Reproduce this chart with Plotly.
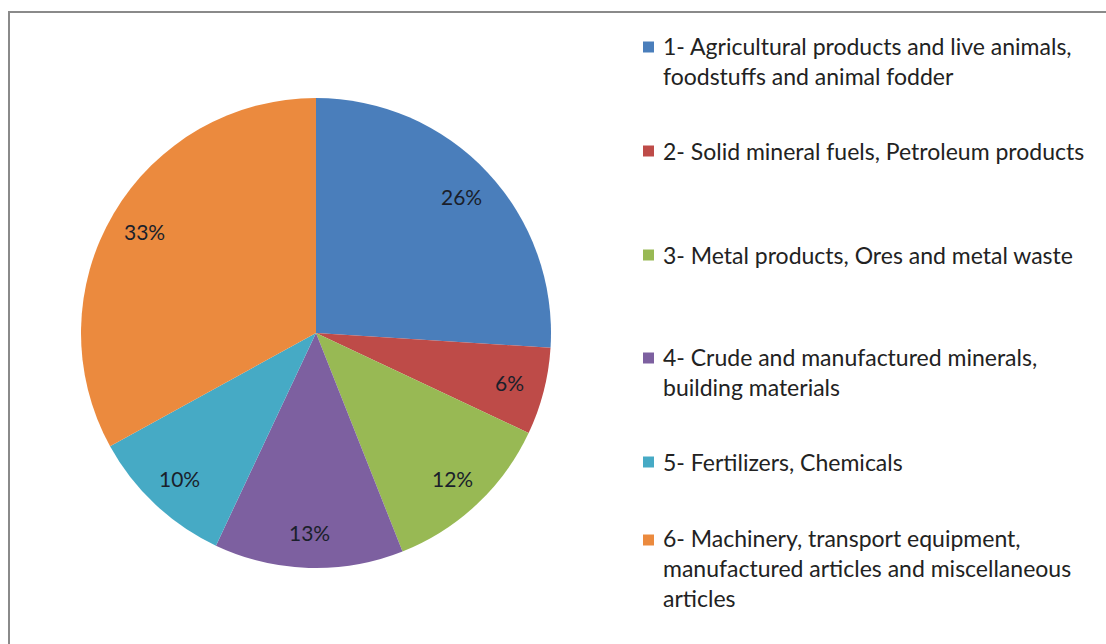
import math
import plotly.graph_objects as go

categories = [
    "1- Agricultural products and live animals,<br>foodstuffs and animal fodder",
    "2- Solid mineral fuels, Petroleum products",
    "3- Metal products, Ores and metal waste",
    "4- Crude and manufactured minerals,<br>building materials",
    "5- Fertilizers, Chemicals",
    "6- Machinery, transport equipment,<br>manufactured articles and miscellaneous<br>articles",
]
values = [26, 6, 12, 13, 10, 33]
colors = ["#4A7EBB", "#BE4B48", "#98B954", "#7D60A0", "#46AAC5", "#EB8A3E"]

W, H = 1106, 644
FONT = "Lato"
CX, CY, R = 316, 333, 235  # pie placement in pixels (layout)
LABEL_R = 0.85

fig = go.Figure()
fig.add_trace(go.Pie(
    labels=categories,
    values=values,
    sort=False,
    direction="clockwise",
    rotation=0,
    marker=dict(colors=colors, line=dict(width=0)),
    textinfo="none",
    showlegend=False,
    hoverinfo="label+percent",
    domain=dict(x=[(CX - R) / W, (CX + R) / W], y=[1 - (CY + R) / H, 1 - (CY - R) / H]),
))

annotations = []
shapes = []

# percentage labels placed at the slice mid-angles (derived from the values)
total = sum(values)
cum = 0
for v in values:
    mid = (cum + v / 2) / total * 2 * math.pi
    cum += v
    px = CX + LABEL_R * R * math.sin(mid)
    py = CY - LABEL_R * R * math.cos(mid)
    annotations.append(dict(
        x=px / W, y=1 - py / H, xref="paper", yref="paper",
        xanchor="center", yanchor="middle", showarrow=False,
        text=f"{round(v / total * 100)}%",
        font=dict(family=FONT, size=21, color="#1a1f2b"),
    ))

# legend drawn as annotations + squares
legend_first_line_y = [47, 151, 255, 358, 462, 540]
line_h = 28
for lab, col, y0 in zip(categories, colors, legend_first_line_y):
    nlines = lab.count("<br>") + 1
    cy = y0 + (nlines - 1) * line_h / 2
    annotations.append(dict(
        x=661 / W, y=1 - cy / H, xref="paper", yref="paper",
        xanchor="left", yanchor="middle", align="left", showarrow=False,
        text=lab, font=dict(family=FONT, size=23, color="#222222"),
    ))
    shapes.append(dict(
        type="rect", xref="paper", yref="paper",
        x0=643 / W, x1=654 / W, y0=1 - (y0 + 5.5) / H, y1=1 - (y0 - 5.5) / H,
        fillcolor=col, line=dict(width=0),
    ))

# chart frame
shapes.append(dict(
    type="rect", xref="paper", yref="paper",
    x0=9 / W, x1=1.02, y0=-0.02, y1=1 - 12 / H,
    line=dict(color="#8a8a8a", width=2), fillcolor="rgba(0,0,0,0)",
))

fig.update_layout(
    width=W, height=H,
    margin=dict(l=0, r=0, t=0, b=0),
    paper_bgcolor="white",
    plot_bgcolor="white",
    shapes=shapes,
    annotations=annotations,
)

fig.write_html(
    "out.html",
    config={"displayModeBar": False},
    post_script="document.body.style.margin='0';",
)
